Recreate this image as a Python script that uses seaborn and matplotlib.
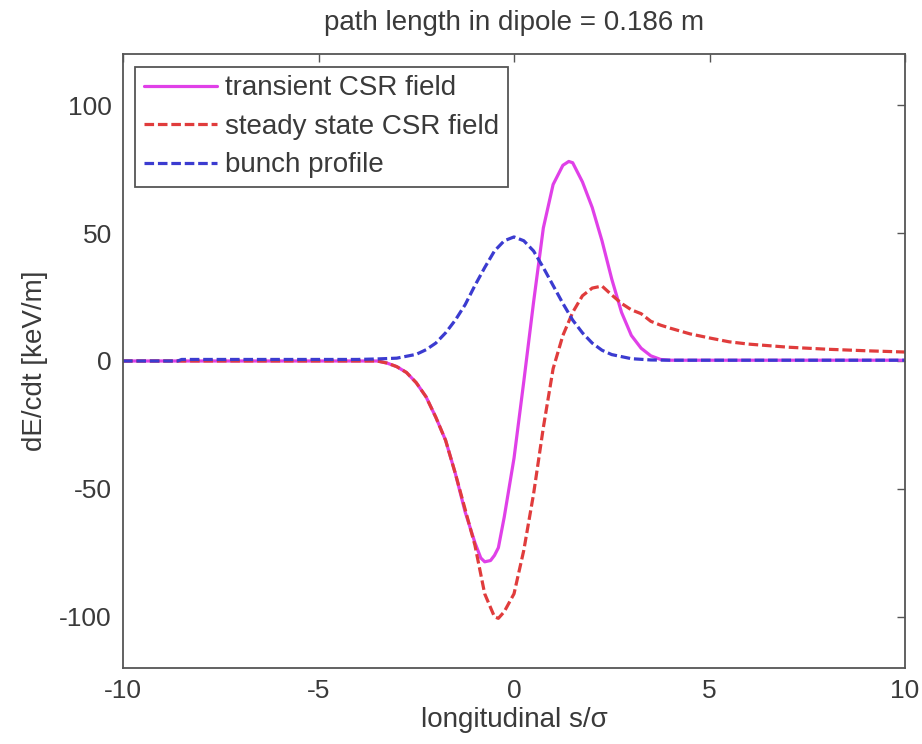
import matplotlib
matplotlib.use("Agg")
import matplotlib.pyplot as plt
import seaborn as sns

# values
s_bunch = [-10, -8.6, -8.5, -4, -3.5, -3, -2.5, -2.25, -2, -1.75, -1.5, -1.25, -1, -0.75,
           -0.5, -0.25, 0, 0.25, 0.5, 0.75, 1, 1.25, 1.5, 1.75, 2, 2.25, 2.5, 3, 3.5, 4, 10]
e_bunch = [0, 0, 0.6, 0.6, 0.8, 1.1, 2.6, 4.4, 7.0, 11, 16, 22, 29.5, 36.5,
           43, 47, 48.5, 47, 43, 36.5, 29.5, 22.5, 16, 11, 7, 4.2, 2.5, 0.9, 0.4, 0.3, 0.3]

s_steady = [-10, -3.5, -3.25, -3, -2.75, -2.5, -2.25, -2, -1.75, -1.5, -1.25, -1, -0.75,
            -0.5, -0.4, -0.25, 0, 0.25, 0.5, 0.75, 1, 1.25, 1.5, 1.75, 2, 2.25, 2.5, 2.75,
            3, 3.25, 3.5, 3.75, 4, 4.5, 5, 5.5, 6, 7, 8, 9, 10]
e_steady = [0, 0, -0.8, -2.2, -4.5, -8.5, -14, -22, -31, -44, -58, -72, -91,
            -100, -100.6, -98, -91, -74, -52, -26, -3, 10, 19, 25.5, 28.5, 29.3, 25.8, 22.5,
            20, 18.5, 15.5, 14, 12.8, 10.6, 9.0, 7.5, 6.6, 5.4, 4.6, 4.0, 3.5]

s_trans = [-10, -3.5, -3.25, -3, -2.75, -2.5, -2.25, -2, -1.75, -1.5, -1.25, -1, -0.85,
           -0.75, -0.6, -0.5, -0.4, -0.25, 0, 0.25, 0.5, 0.75, 1, 1.25, 1.4, 1.5, 1.75,
           2, 2.25, 2.5, 2.75, 3, 3.25, 3.5, 3.75, 4, 10]
e_trans = [0, 0, -0.8, -2.2, -4.5, -8.5, -14, -22, -31, -44, -59, -71, -77,
           -78.5, -78, -76, -73, -61, -38, -8, 23, 52, 69, 76.5, 78, 77.5, 70,
           60, 47, 32, 19, 10, 5, 2, 0.6, 0.3, 0.3]

sns.set_theme(style="white")
plt.rcParams["font.family"] = ["Liberation Sans", "DejaVu Sans"]
plt.rcParams["axes.unicode_minus"] = False

text_col = "#3a3a3a"
fig, ax = plt.subplots(figsize=(9.22, 7.44), dpi=100)
fig.subplots_adjust(left=0.1334, right=0.9816, bottom=0.1022, top=0.9274)

dash = (0, (3.0, 1.2))
sns.lineplot(x=s_trans, y=e_trans, color="#e040e8", lw=2.3, ax=ax,
             label="transient CSR field")
sns.lineplot(x=s_steady, y=e_steady, color="#e03c3c", lw=2.3, linestyle=dash, ax=ax,
             label="steady state CSR field")
sns.lineplot(x=s_bunch, y=e_bunch, color="#3b3bd0", lw=2.3, linestyle=dash, ax=ax,
             label="bunch profile")

ax.set_xlim(-10, 10)
ax.set_ylim(-120, 120)
ax.set_xticks([-10, -5, 0, 5, 10])
ax.set_yticks([-100, -50, 0, 50, 100])
ax.tick_params(direction="in", length=6, width=1, top=True, right=True,
               labelsize=19, pad=8, colors="#555555", labelcolor=text_col)
for sp in ax.spines.values():
    sp.set_color("#555555")
    sp.set_linewidth(1.3)

ax.set_title("path length in dipole = 0.186 m", fontsize=20, color=text_col, pad=17)
ax.set_xlabel("longitudinal s/σ", fontsize=20, color=text_col, labelpad=3)
ax.set_ylabel("dE/cdt [keV/m]", fontsize=20, color=text_col, labelpad=8)

leg = ax.legend(loc="upper left", fontsize=20, handlelength=2.6, handletextpad=0.3,
                labelspacing=0.45, borderaxespad=0.45, borderpad=0.32,
                fancybox=False, framealpha=1)
leg.get_frame().set_edgecolor("#555555")
leg.get_frame().set_linewidth(1.3)
for t in leg.get_texts():
    t.set_color(text_col)

fig.savefig("out.png", dpi=100)
